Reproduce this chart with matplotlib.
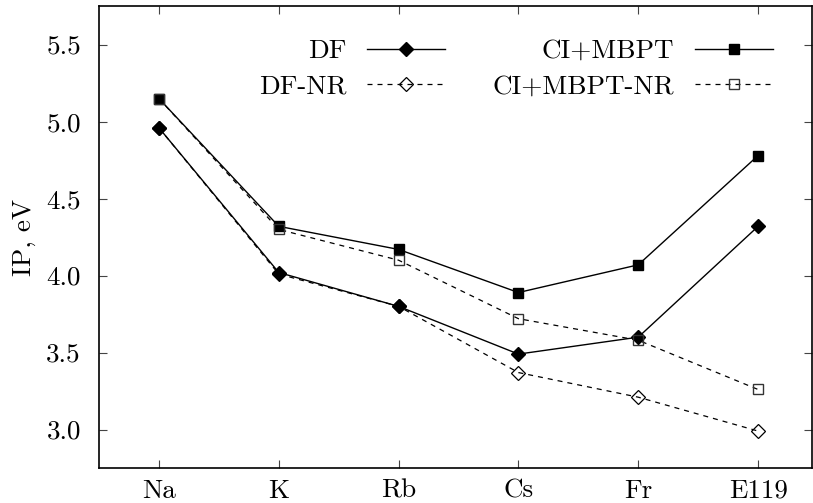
import matplotlib
matplotlib.use("Agg")
from matplotlib import pyplot as plt
import numpy as np

plt.rcParams['font.family'] = 'serif'
plt.rcParams['font.serif'] = ['cmr10', 'DejaVu Serif']
plt.rcParams['mathtext.fontset'] = 'cm'
plt.rcParams['axes.unicode_minus'] = False
plt.rcParams['axes.formatter.use_mathtext'] = True

elements = ["Na", "K", "Rb", "Cs", "Fr", "E119"]
df = [4.96, 4.02, 3.80, 3.49, 3.60, 4.32]
df_nr = [4.96, 4.01, 3.80, 3.37, 3.21, 2.99]
ci = [5.15, 4.32, 4.17, 3.89, 4.07, 4.78]
ci_nr = [5.15, 4.30, 4.10, 3.72, 3.58, 3.26]
yticks = [3.0, 3.5, 4.0, 4.5, 5.0, 5.5]

x = np.arange(len(elements))
fs = 19.5

fig = plt.figure(figsize=(8.13, 5.03), dpi=100)
ax = fig.add_axes([0.1218, 0.0696, 0.877, 0.918])

dash = (0, (4, 4))
ax.plot(x, df, color='black', lw=1.0, marker='D', ms=7, label='DF')
ax.plot(x, ci, color='black', lw=1.0, marker='s', ms=7.5, label='CI+MBPT')
ax.plot(x, df_nr, color='black', lw=0.9, ls=dash, marker='D', ms=7.5,
        mfc='none', mew=0.9, label='DF-NR')
ax.plot(x, ci_nr, color='black', lw=0.9, ls=dash, marker='s', ms=6.5,
        mfc='none', mec='#333333', mew=1.0, label='CI+MBPT-NR')

ax.set_xlim(-0.5, 5.45)
ax.set_ylim(2.75, 5.75)
ax.set_xticks(x)
ax.set_xticklabels(elements)
ax.set_yticks(yticks)
ax.set_yticklabels(["%.1f" % v for v in yticks])
ax.tick_params(direction='in', length=6, width=0.8, color='#444444',
               labelsize=fs, top=True, right=True)
ax.tick_params(axis='x', pad=8)
ax.tick_params(axis='y', pad=13)
for s in ax.spines.values():
    s.set_linewidth(1.2)
ax.set_ylabel("IP, eV", fontsize=fs)
ax.yaxis.set_label_coords(-0.088, 0.5)

h, l = ax.get_legend_handles_labels()
order = [0, 2, 1, 3]
ax.legend([h[i] for i in order], [l[i] for i in order], ncol=2,
          markerfirst=False, frameon=False, fontsize=fs,
          loc='upper right', bbox_to_anchor=(0.972, 0.97),
          handlelength=2.9, handletextpad=0.75, columnspacing=1.75,
          labelspacing=0.42, borderpad=0.2)

fig.savefig("out.png", dpi=100)
